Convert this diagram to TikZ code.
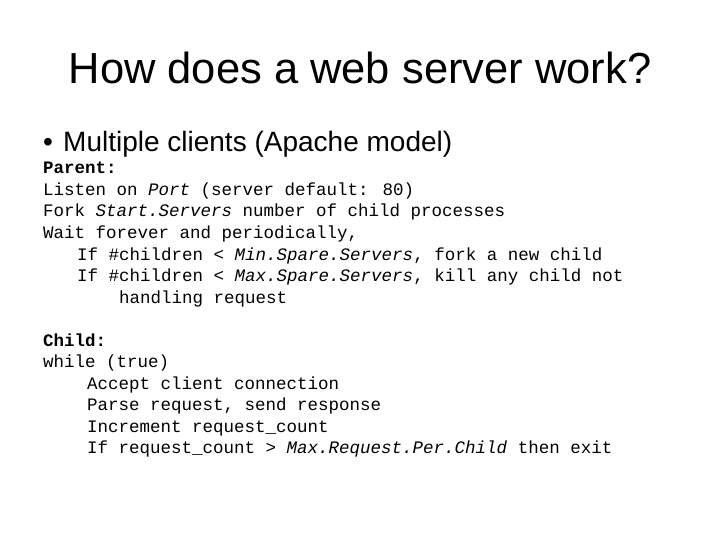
\documentclass[tikz,border=0pt]{standalone}
\usepackage{fontspec}
\setmainfont{Liberation Sans}
\newfontfamily\cmono{Liberation Mono}
\begin{document}
\begin{tikzpicture}[x=1pt,y=-1pt,
  code/.style={anchor=base west,inner sep=0pt,font=\cmono\fontsize{17.5}{20}\selectfont}]
\useasboundingbox (0,0) rectangle (720,540);
\node[anchor=base,inner sep=0pt,font=\fontsize{43.5}{48}\selectfont] (t) at (360,84) {How does a web server work?};
\node[anchor=base west,inner sep=0pt,font=\fontsize{28}{32}\selectfont] (bu) at (43,152) {\textbullet};
\node[anchor=base west,inner sep=0pt,font=\fontsize{28}{32}\selectfont] (b) at (63,152) {Multiple clients (Apache model)};
\node[code] (l1) at (43,174) {\textbf{Parent:}};
\node[code] (l2) at (43,195.5) {Listen on \textit{Port} (server default: 80)};
\node[code] (l3) at (43,217) {Fork \textit{Start.Servers} number of child processes};
\node[code] (l4) at (43,238.5) {Wait forever and periodically,};
\node[code] (l5) at (77,260) {If \#children < \textit{Min.Spare.Servers}, fork a new child};
\node[code] (l6) at (77,281.5) {If \#children < \textit{Max.Spare.Servers}, kill any child not};
\node[code] (l7) at (119,303) {handling request};
\node[code] (c1) at (43,346) {\textbf{Child:}};
\node[code] (c2) at (43,367.5) {while (true)};
\node[code] (c3) at (87,389) {Accept client connection};
\node[code] (c4) at (87,410.5) {Parse request, send response};
\node[code] (c5) at (87,432) {Increment request\_count};
\node[code] (c6) at (87,453.5) {If request\_count > \textit{Max.Request.Per.Child} then exit};
\end{tikzpicture}
\end{document}
